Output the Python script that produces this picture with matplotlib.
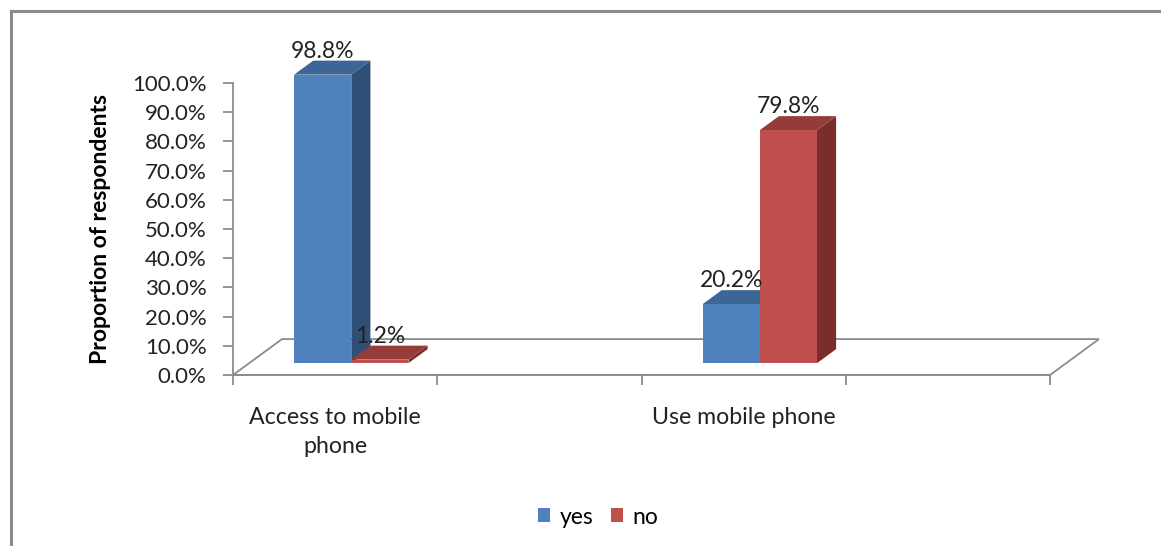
import matplotlib
matplotlib.use('Agg')
from matplotlib import pyplot as plt
from matplotlib.patches import Polygon, Patch
import numpy

plt.rcParams['font.family'] = ['Lato', 'DejaVu Sans']

categories = ['Access to mobile\nphone', 'Use mobile phone']
series = ['yes', 'no']
yes_vals = [98.8, 20.2]
no_vals = [1.2, 79.8]
yticks = numpy.arange(0, 101, 10)

# front / top / side shades for each series
shades = {'yes': ('#4F81BD', '#3D6595', '#2F4F77'),
          'no': ('#C0504D', '#953C3A', '#792E2C')}

W, H = 1161, 546
fig = plt.figure(figsize=(W/100.0, H/100.0), dpi=100)

# outer chart frame
fig.add_artist(plt.Line2D([10.5/W, 10.5/W], [0, 1-10.5/H], color='#8a8a8a', lw=2.2))
fig.add_artist(plt.Line2D([10.5/W, 1], [1-10.5/H, 1-10.5/H], color='#8a8a8a', lw=2.2))

ax = fig.add_axes([233.0/W, (H-375.0)/H, 817.0/W, 292.0/H])
ax.set_xlim(0, 4)
ax.set_ylim(0, 100)
ax.patch.set_visible(False)
for s in ['top', 'right']:
  ax.spines[s].set_visible(False)
for s in ['left', 'bottom']:
  ax.spines[s].set_color('#8c8c8c')
  ax.spines[s].set_linewidth(1.3)

# oblique depth of the floor, in data units
floor_dx, floor_dy = 0.24, 12.3
d_front, d_back = 0.33, 0.72
bar_w = 0.28

floor = Polygon([(0, 0), (floor_dx, floor_dy), (4+floor_dx, floor_dy), (4, 0)],
                closed=True, fill=False, edgecolor='#8c8c8c', lw=1.3, clip_on=False)
ax.add_patch(floor)

def draw_bar(x0, val, kind):
  front, top, side = shades[kind]
  fx, fy = d_front*floor_dx, d_front*floor_dy
  bx, by = d_back*floor_dx, d_back*floor_dy
  xl, xr = x0+fx, x0+bar_w+fx
  y0, y1 = fy, fy+val
  ddx, ddy = bx-fx, by-fy
  ax.add_patch(Polygon([(xr, y0), (xr+ddx, y0+ddy), (xr+ddx, y1+ddy), (xr, y1)],
                       closed=True, facecolor=side, edgecolor='none', clip_on=False))
  ax.add_patch(Polygon([(xl, y1), (xl+ddx, y1+ddy), (xr+ddx, y1+ddy), (xr, y1)],
                       closed=True, facecolor=top, edgecolor='none', clip_on=False))
  ax.bar(xl, val, width=bar_w, bottom=y0, align='edge', color=front, clip_on=False)
  ax.annotate('%.1f%%' % val, xy=((xl+xr)/2, y1), xytext=(0, 17), textcoords='offset points',
              ha='center', va='center', fontsize=16.5, color='#222222', annotation_clip=False)

centers = [0.5, 2.5]
for i, c in enumerate(centers):
  draw_bar(c-bar_w, yes_vals[i], 'yes')
  draw_bar(c, no_vals[i], 'no')

ax.set_yticks(yticks)
ax.set_yticklabels(['%.1f%%' % v for v in yticks], fontsize=16, color='#222222')
ax.set_xticks(numpy.arange(0, 5))
ax.set_xticklabels([])
ax.set_xticks(centers, minor=True)
ax.set_xticklabels(categories, minor=True, fontsize=16.7, color='#222222', linespacing=1.45)
ax.tick_params(axis='both', which='major', length=7, color='#8c8c8c', width=1.3)
ax.tick_params(axis='x', which='minor', length=0, pad=23)
ax.tick_params(axis='y', pad=12)
ax.set_ylabel('Proportion of respondents', fontsize=16.5, fontweight='bold', labelpad=15)

handles = [Patch(facecolor=shades[k][0], edgecolor='none') for k in series]
fig.legend(handles, series, loc='center', bbox_to_anchor=(598.0/W, 1-517.0/H), ncol=2,
           frameon=False, fontsize=16.5, handlelength=0.55, handleheight=0.55,
           handletextpad=0.4, columnspacing=0.75)

fig.savefig('out.png', dpi=100)
